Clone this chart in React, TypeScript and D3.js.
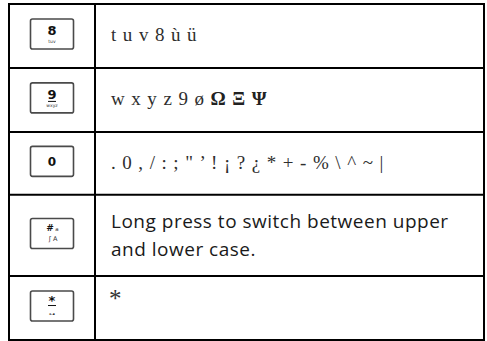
import React from "react";
import * as d3 from "d3";

// key cap digit, small letters under it, description text lines
const keyDigits = ["8", "9", "0", "#", "*"];
const keySubs = ["tuv", "wxyz", "", "ʃ A", "⊶"];
const descriptions: string[][] = [
  ["t u v 8 ù ü"],
  ["w x y z 9 ø Ω Ξ Ψ"],
  [". 0 , / : ; \" ’ ! ¡ ? ¿ * + - % \\ ^ ~ |"],
  ["Long press to switch between upper", "and lower case."],
  ["*"],
];
// which rows use the sans text face
const sansRows = [false, false, false, true, false];
// relative row heights
const rowUnits = [1, 1, 0.985, 1.27, 1];

const W = 487;
const H = 341;
const left = 9;
const right = 484;
const top = 4;
const bottom = 340;
const divider = 95;

const App = () => {
  const cum = [0];
  rowUnits.forEach((u) => cum.push(cum[cum.length - 1] + u));
  const y = d3.scaleLinear().domain([0, cum[cum.length - 1]]).range([top, bottom]);
  const keyX = d3.scaleLinear().domain([0, 1]).range([left, divider]);

  const serif = "'Liberation Serif', 'DejaVu Serif', serif";
  const sans = "'Open Sans', Lato, sans-serif";
  const keyFont = "'DejaVu Sans', sans-serif";

  const renderDesc = (i: number, rowTop: number) => {
    const lines = descriptions[i];
    if (sansRows[i]) {
      return lines.map((l, j) => (
        <text
          key={j}
          x={111}
          y={rowTop + 33 + j * 28.5}
          fontFamily={sans}
          fontSize={19}
          letterSpacing={0.5}
          fill="#1a1a1a"
        >
          {l}
        </text>
      ));
    }
    if (lines[0] === "*") {
      return (
        <text x={109} y={rowTop + 31} fontFamily={serif} fontSize={25} fill="#333">
          *
        </text>
      );
    }
    const tokens = lines[0].split(" ");
    return (
      <text x={111} y={rowTop + 37} fontFamily={serif} fontSize={19} fill="#2e2e2e" wordSpacing={1.8}>
        {tokens.map((t, j) => {
          const greek = /[ΩΞΨ]/.test(t);
          return (
            <tspan
              key={j}
              fontWeight={greek ? "bold" : "normal"}
              fill={greek ? "#222" : "#2e2e2e"}
            >
              {(j > 0 ? " " : "") + t}
            </tspan>
          );
        })}
      </text>
    );
  };

  const renderKey = (i: number, rowTop: number, rowH: number) => {
    const bw = 43;
    const bh = 30;
    const cx = keyX(0.5);
    const by = rowTop + (rowH - bh) / 2 - 2;
    const d = keyDigits[i];
    const sub = keySubs[i];
    return (
      <g>
        <rect
          x={cx - bw / 2}
          y={by}
          width={bw}
          height={bh}
          rx={2}
          fill="#fff"
          stroke="#4a4a4a"
          strokeWidth={1.6}
        />
        {d === "0" && (
          <text x={cx} y={by + 20} textAnchor="middle" fontFamily={keyFont} fontWeight="bold" fontSize={12} fill="#111">
            0
          </text>
        )}
        {(d === "8" || d === "9") && (
          <>
            <text x={cx} y={by + 16} textAnchor="middle" fontFamily={keyFont} fontWeight="bold" fontSize={13} fill="#111">
              {d}
            </text>
            {d === "9" && <line x1={cx - 4} x2={cx + 4} y1={by + 18.5} y2={by + 18.5} stroke="#111" strokeWidth={1} />}
            <text x={cx} y={by + 24} textAnchor="middle" fontFamily={keyFont} fontSize={4.5} fill="#333">
              {sub}
            </text>
          </>
        )}
        {d === "#" && (
          <>
            <text x={cx - 2} y={by + 13} textAnchor="middle" fontFamily={keyFont} fontWeight="bold" fontSize={9} fill="#111">
              #
            </text>
            <text x={cx + 5} y={by + 12.5} textAnchor="middle" fontFamily={keyFont} fontSize={5.5} fill="#333">
              a
            </text>
            <text x={cx + 1} y={by + 23} textAnchor="middle" fontFamily={keyFont} fontSize={6.5} fill="#333">
              {sub}
            </text>
          </>
        )}
        {d === "*" && (
          <>
            <text x={cx} y={by + 14} textAnchor="middle" fontFamily={keyFont} fontWeight="bold" fontSize={13} fill="#111">
              *
            </text>
            <line x1={cx - 4} x2={cx + 4} y1={by + 14.5} y2={by + 14.5} stroke="#111" strokeWidth={1} />
            <text x={cx} y={by + 25} textAnchor="middle" fontFamily={keyFont} fontSize={6} fill="#111">
              {sub}
            </text>
          </>
        )}
      </g>
    );
  };

  return (
    <svg width={W} height={H} style={{ position: "absolute", left: 0, top: 0, background: "#fff" }}>
      {descriptions.map((_, i) => {
        const rowTop = y(cum[i]);
        const rowH = y(cum[i + 1]) - rowTop;
        return (
          <g key={i}>
            {renderKey(i, rowTop, rowH)}
            {renderDesc(i, rowTop)}
            {i > 0 && <line x1={left} x2={right} y1={rowTop} y2={rowTop} stroke="#000" strokeWidth={2} />}
          </g>
        );
      })}
      <line x1={divider} x2={divider} y1={top} y2={bottom} stroke="#000" strokeWidth={2} />
      <rect x={left} y={top} width={right - left} height={bottom - top} fill="none" stroke="#000" strokeWidth={2} />
    </svg>
  );
};

export default App;
